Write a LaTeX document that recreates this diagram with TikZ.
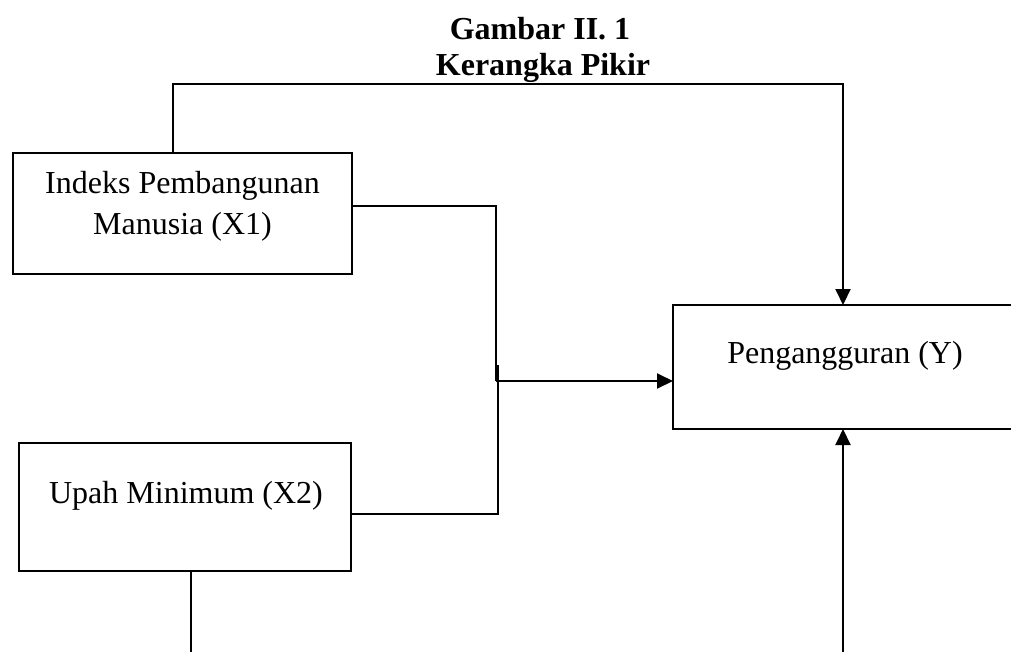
\documentclass[tikz,border=0pt]{standalone}
\usepackage{fontspec}
\setmainfont{Liberation Serif}
\usetikzlibrary{arrows.meta}
\tikzset{
  box/.style={draw=black, line width=1.4pt, rectangle, inner sep=0pt, outer sep=0pt, anchor=north west},
  lbl/.style={anchor=base, inner sep=0pt, font=\fontsize{32}{38}\selectfont},
  ttl/.style={anchor=base, inner sep=0pt, font=\fontsize{32}{38}\selectfont\bfseries},
  conn/.style={draw=black, line width=2pt},
  arr/.style={conn, -{Triangle[length=16pt,width=15pt]}}
}
\begin{document}
\begin{tikzpicture}[x=1pt,y=-1pt]
\useasboundingbox (0,0) rectangle (1011,651);
% title
\node[ttl] (title1) at (540,39) {Gambar II. 1};
\node[ttl] (title2) at (543,75) {Kerangka Pikir};
% boxes
\node[box, minimum width=339pt, minimum height=121pt] (x1) at (13,153) {};
\node[box, minimum width=332pt, minimum height=128pt] (x2) at (19,443) {};
\node[box, minimum width=345pt, minimum height=124pt] (y) at (673,305) {};
% labels
\node[lbl] (x1a) at (182.5,193) {Indeks Pembangunan};
\node[lbl] (x1b) at (182.5,234) {Manusia (X1)};
\node[lbl] (x2a) at (186,503) {Upah Minimum (X2)};
\node[lbl] (ya) at (845,363) {Pengangguran (Y)};
% helper coordinates
\coordinate (ctl) at (173,84);
\coordinate (ctr) at (843,84);
\coordinate (vj1) at (496,206);
\coordinate (vj2) at (497.5,514);
\coordinate (mj) at (496,381);
\coordinate (mj2) at (497.5,365);
\coordinate (bl) at (191,660);
\coordinate (br) at (843,660);
% connectors
\draw[arr] (ctl |- x1.north) -- (ctl) -- (ctr) -- (ctr |- y.north);
\draw[conn] (vj1 -| x1.east) -- (vj1) -- (mj);
\draw[conn] (vj2 -| x2.east) -- (vj2) -- (mj2);
\draw[arr] (mj) -- (mj -| y.west);
\draw[conn] (bl |- x2.south) -- (bl);
\draw[arr] (br) -- (br |- y.south);
\end{tikzpicture}
\end{document}
